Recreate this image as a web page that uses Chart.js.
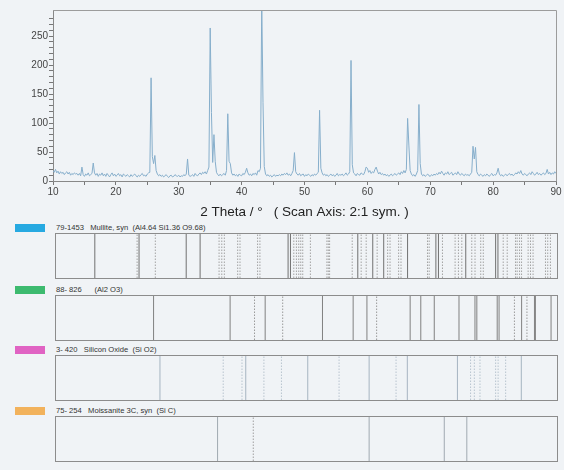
<!DOCTYPE html>
<html>
<head>
<meta charset="utf-8">
<script src="https://cdn.jsdelivr.net/npm/chart.js@4.4.0/dist/chart.umd.min.js"></script>
<style>
    body { margin: 0; background: #f0f3f6; font-family: "Liberation Sans", Arial, sans-serif; }
    #page { position: relative; width: 564px; height: 470px; overflow: hidden; }
    #main { position: absolute; left: 0; top: 0; }
    .swatch { position: absolute; left: 15px; width: 30px; height: 8px; }
    .ref-label { position: absolute; left: 56px; font-size: 7.6px; line-height: 9px; color: #333; white-space: pre; }
    .ref-box { position: absolute; left: 55px; width: 503px; height: 46px; border: 1px solid #8c8c8c; box-sizing: border-box; }
    .ref-box canvas { position: absolute; left: 0; top: 0; }
</style>
</head>
<body>
<div id="page">
    <canvas id="main" width="564" height="220"></canvas>
</div>
<script>
/* global Chart */

const FONT = '"Liberation Sans", Arial, sans-serif';

// measured scan: counts every 0.2 deg from 10 to 90
const SCAN_START = 10;
const SCAN_STEP = 0.2;
const COUNTS = [
    18, 15, 20, 14, 17, 12, 16, 13, 15, 11, 14, 16, 12, 15, 10, 13, 11, 14, 12, 13,    // 10
    10, 13, 9, 24, 11, 8, 12, 10, 14, 9, 11, 13, 31, 14, 10, 13, 8, 12, 10, 14,        // 14
    9, 12, 8, 13, 10, 7, 11, 14, 9, 12, 8, 10, 13, 9, 11, 7, 12, 10, 8, 11,            // 18
    9, 7, 11, 8, 10, 12, 9, 7, 10, 8, 11, 13, 9, 10, 8, 12, 14, 15, 178, 42,           // 22
    30, 44, 18, 12, 9, 11, 8, 10, 7, 9, 11, 8, 6, 9, 10, 7, 8, 11, 9, 8,               // 26
    10, 7, 9, 8, 11, 9, 12, 38, 10, 8, 9, 11, 8, 13, 10, 9, 12, 14, 11, 15,            // 30
    13, 16, 12, 18, 24, 264, 118, 32, 80, 34, 15, 11, 9, 12, 9, 11, 13, 10, 18, 116,   // 34
    34, 30, 14, 10, 12, 9, 11, 8, 12, 10, 9, 13, 11, 15, 22, 14, 10, 12, 9, 13,        // 38
    11, 14, 10, 18, 16, 22, 310, 135, 25, 12, 9, 11, 8, 10, 7, 9, 11, 8, 10, 9,        // 42
    11, 9, 12, 10, 13, 11, 14, 10, 12, 9, 13, 18, 49, 16, 12, 10, 13, 9, 11, 12,       // 46
    8, 11, 9, 12, 10, 8, 11, 9, 12, 10, 13, 15, 122, 22, 14, 10, 12, 9, 11, 8,         // 50
    10, 12, 9, 11, 8, 10, 13, 9, 11, 10, 12, 9, 11, 14, 10, 12, 16, 208, 28, 14,       // 54
    12, 9, 13, 11, 10, 14, 12, 11, 16, 24, 22, 15, 18, 13, 16, 14, 20, 24, 17, 12,     // 58
    15, 11, 13, 10, 12, 9, 11, 8, 10, 12, 9, 11, 13, 10, 12, 14, 11, 16, 13, 18,       // 62
    14, 20, 108, 62, 18, 12, 9, 11, 8, 12, 18, 132, 30, 12, 9, 11, 8, 10, 12, 9,       // 66
    8, 11, 9, 12, 10, 13, 11, 15, 12, 17, 13, 10, 14, 12, 16, 11, 13, 15, 10, 12,      // 70
    14, 11, 16, 12, 10, 13, 11, 9, 12, 10, 11, 9, 12, 15, 60, 38, 58, 16, 11, 9,       // 74
    12, 10, 8, 11, 9, 12, 10, 8, 11, 13, 9, 11, 10, 14, 22, 12, 9, 11, 8, 10,          // 78
    12, 9, 11, 13, 10, 12, 9, 11, 14, 12, 16, 13, 18, 12, 10, 13, 11, 9, 12, 14,       // 82
    11, 16, 13, 10, 12, 15, 11, 13, 10, 12, 14, 11, 13, 20, 12, 15, 11, 14, 12, 16,    // 86
    13                                                                                 // 90
];

const X_LABELS = [10, 20, 30, 40, 50, 60, 70, 80, 90];
const Y_LABELS = [0, 50, 100, 150, 200, 250];

// reference patterns (2 theta of each stick)
const MULLITE_SOLID = [16.2, 23.26, 30.79, 33.01, 47.06, 47.44, 58.19, 60.58, 62.33, 66.14,
    70.66, 71.07, 75.43, 80.2, 80.57];
const MULLITE_DASHED = [22.95, 25.86, 36.04, 36.47, 36.88, 39.01, 39.38, 42.19, 42.56, 47.97,
    48.39, 48.76, 49.08, 49.4, 50.62, 53.26, 53.48, 53.69, 57.3, 58.73, 59.53, 61.28, 62.96,
    63.34, 64.71, 65.09, 69.32, 69.59, 71.71, 73.73, 74.26, 74.8, 76.39, 76.91, 77.82, 78.23,
    81.41, 82.05, 83.38, 83.64, 84.02, 84.34, 85.39, 85.77, 86.18, 88.16, 88.52, 88.95];

const AL2O3_SOLID = [25.58, 37.8, 43.4, 52.55, 57.45, 59.65, 66.55, 68.25, 70.4, 74.35, 76.9,
    77.2, 80.45, 80.75, 84.35, 86.4, 86.55, 89.05];
const AL2O3_DASHED = [41.7, 46.2, 61.2, 83.2, 85.2];

const SIO2_SOLID = [26.6, 40.3, 50.2, 60.0, 66.1, 74.1, 84.3];
const SIO2_DASHED = [36.7, 39.7, 43.2, 46.0, 55.2, 64.3, 76.2, 76.8, 77.7, 80.2, 80.6, 81.8];

const SIC_SOLID = [35.8, 60.0, 72.0, 75.6];
const SIC_DASHED = [41.5];

const REF_LABELS = [
    '79-1453   Mullite, syn  (Al4.64 Si1.36 O9.68)',
    '88- 826      (Al2 O3)',
    '3- 420   Silicon Oxide  (Si O2)',
    '75- 254   Moissanite 3C, syn  (Si C)'
];

const framePlugin = {
    id: 'frame',
    afterDraw(chart) {
        const { ctx, chartArea: a } = chart;
        ctx.save();
        ctx.strokeStyle = '#9c9c9c';
        ctx.lineWidth = 1;
        ctx.beginPath();
        ctx.moveTo(a.left, a.top + 0.5);
        ctx.lineTo(a.right + 0.5, a.top + 0.5);
        ctx.lineTo(a.right + 0.5, a.bottom);
        ctx.stroke();
        ctx.restore();
    }
};

const scan = COUNTS.map((c, i) => ({ x: +(SCAN_START + i * SCAN_STEP).toFixed(1), y: c }));

new Chart(document.getElementById('main'), {
    type: 'line',
    data: {
        datasets: [{
            data: scan,
            borderColor: '#86aecb',
            borderWidth: 1,
            pointRadius: 0,
            tension: 0
        }]
    },
    options: {
        responsive: false,
        animation: false,
        layout: { padding: { top: 10, right: 8, left: 0, bottom: 0 } },
        plugins: { legend: { display: false }, tooltip: { enabled: false } },
        scales: {
            x: {
                type: 'linear', min: 10, max: 90,
                afterFit: s => { s.height = 39; },
                ticks: {
                    stepSize: 5, autoSkip: false, maxRotation: 0, padding: 1,
                    color: '#444', font: { size: 10, family: FONT },
                    callback: v => X_LABELS.includes(v) ? String(v) : ''
                },
                grid: { drawOnChartArea: false, tickLength: 4, tickColor: '#777' },
                border: { color: '#888' },
                title: {
                    display: true,
                    text: '2 Theta / °   ( Scan Axis: 2:1 sym. )',
                    color: '#222',
                    font: { size: 13.5, family: FONT },
                    padding: { top: 4, bottom: 0 }
                }
            },
            y: {
                min: 0, max: 295,
                afterFit: s => { s.width = 53; },
                afterBuildTicks: s => { s.ticks = s.ticks.filter(t => t.value % 10 === 0); },
                ticks: {
                    stepSize: 10, autoSkip: false, padding: 1,
                    color: '#444', font: { size: 10, family: FONT },
                    callback: v => Y_LABELS.includes(v) ? String(v) : ''
                },
                grid: { drawOnChartArea: false, tickLength: 4, tickColor: '#777' },
                border: { color: '#888' }
            }
        }
    },
    plugins: [framePlugin]
});

function sticks(list) {
    return list.flatMap(p => [{ x: p, y: 0 }, { x: p, y: 1 }, { x: p, y: null }]);
}

const panels = [
    { top: 233, swatch: '#27a9e1', solid: MULLITE_SOLID, dashed: MULLITE_DASHED, solidColor: '#707070', dashColor: '#a3a3a3' },
    { top: 295, swatch: '#3dba6f', solid: AL2O3_SOLID, dashed: AL2O3_DASHED, solidColor: '#808080', dashColor: '#9a9a9a' },
    { top: 355, swatch: '#e063c3', solid: SIO2_SOLID, dashed: SIO2_DASHED, solidColor: '#a6b4c1', dashColor: '#b8c4cf' },
    { top: 416, swatch: '#f2b25c', solid: SIC_SOLID, dashed: SIC_DASHED, solidColor: '#a0a9b1', dashColor: '#a0a0a0' }
];

const page = document.getElementById('page');

panels.forEach((p, i) => {
    const sw = document.createElement('div');
    sw.className = 'swatch';
    sw.style.top = (p.top - 9) + 'px';
    sw.style.background = p.swatch;
    page.appendChild(sw);

    const lbl = document.createElement('div');
    lbl.className = 'ref-label';
    lbl.style.top = (p.top - 10) + 'px';
    lbl.textContent = REF_LABELS[i];
    page.appendChild(lbl);

    const box = document.createElement('div');
    box.className = 'ref-box';
    box.style.top = p.top + 'px';
    const cv = document.createElement('canvas');
    cv.width = 501;
    cv.height = 44;
    box.appendChild(cv);
    page.appendChild(box);

    new Chart(cv, {
        type: 'line',
        data: {
            datasets: [
                { data: sticks(p.solid), borderColor: p.solidColor, borderWidth: 1, pointRadius: 0 },
                { data: sticks(p.dashed), borderColor: p.dashColor, borderWidth: 1, borderDash: [1.5, 1.5], pointRadius: 0 }
            ]
        },
        options: {
            responsive: false,
            animation: false,
            layout: { padding: 0 },
            plugins: { legend: { display: false }, tooltip: { enabled: false } },
            scales: {
                x: { type: 'linear', min: 10, max: 90, display: false },
                y: { min: 0, max: 1, display: false }
            }
        }
    });
});
</script>
</body>
</html>
